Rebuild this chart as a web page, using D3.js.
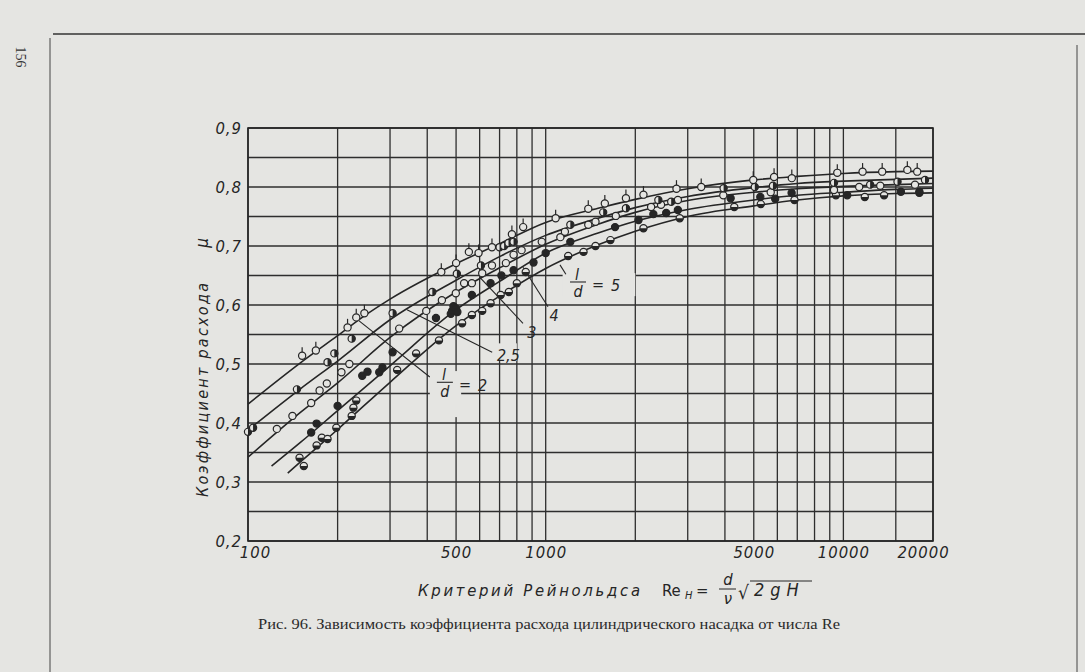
<!DOCTYPE html>
<html><head><meta charset="utf-8">
<script src="https://cdn.jsdelivr.net/npm/d3@7"></script>
<style>
html,body{margin:0;padding:0;background:#e5e5e2}
svg{display:block}
</style>
</head><body>
<svg id="chart" width="1085" height="672"></svg>
<script>
// ---------- data ----------
const xTicks = [100, 500, 1000, 5000, 10000, 20000];
const xTickLabels = ["100", "500", "1000", "5000", "10000", "20000"];
const yTicks = [0.2, 0.3, 0.4, 0.5, 0.6, 0.7, 0.8, 0.9];
const yTickLabels = ["0,2", "0,3", "0,4", "0,5", "0,6", "0,7", "0,8", "0,9"];
const xGrid = [100,200,300,400,500,600,700,800,900,1000,2000,3000,4000,5000,6000,7000,8000,9000,10000,15000,20000];
const yGrid = [0.2,0.25,0.3,0.35,0.4,0.45,0.5,0.55,0.6,0.65,0.7,0.75,0.8,0.85,0.9];

// fitted curves, l/d = 2, 2.5, 3, 4, 5  (Re, mu)
const curveLd2  = [[100,.432],[150,.502],[200,.548],[250,.584],[300,.610],[500,.670],[700,.704],[1000,.740],[1500,.764],[2000,.779],[3000,.797],[5000,.812],[7000,.818],[10000,.823],[15000,.826],[20000,.827]];
const curveLd25 = [[100,.388],[150,.458],[200,.505],[300,.575],[500,.642],[700,.682],[1000,.718],[1500,.747],[2000,.765],[3000,.784],[5000,.799],[7000,.806],[10000,.810],[15000,.813],[20000,.815]];
const curveLd3  = [[100,.342],[150,.418],[200,.468],[300,.545],[500,.622],[700,.663],[1000,.703],[1500,.737],[2000,.757],[3000,.777],[5000,.791],[7000,.797],[10000,.801],[15000,.804],[20000,.806]];
const curveLd4  = [[120,.327],[150,.367],[200,.421],[300,.497],[500,.592],[700,.640],[1000,.688],[1500,.722],[2000,.742],[3000,.762],[5000,.778],[7000,.786],[10000,.791],[15000,.796],[20000,.798]];
const curveLd5  = [[136,.315],[150,.334],[200,.389],[300,.469],[500,.565],[700,.615],[1000,.662],[1500,.702],[2000,.725],[3000,.750],[5000,.768],[7000,.778],[10000,.785],[15000,.789],[20000,.790]];

// measured points
const ptsLd2  = [[152,.514],[169,.523],[216,.562],[231,.579],[246,.586],[446,.656],[500,.671],[552,.690],[595,.688],[660,.698],[770,.720],[840,.732],[1080,.747],[1390,.763],[1580,.772],[1860,.781],[2130,.787],[2750,.797],[3330,.800],[4980,.812],[5850,.817],[6710,.815],[9540,.824],[11600,.826],[13500,.826],[16400,.829],[17700,.826]];
const ptsLd25 = [[100,.385],[104,.392],[146,.457],[185,.503],[195,.518],[223,.543],[306,.586],[416,.622],[503,.653],[606,.667],[700,.698],[725,.700],[750,.705],[780,.707],[1210,.736],[1560,.757],[1860,.764],[2390,.778],[2640,.775],[3960,.798],[5040,.800],[5800,.802],[9300,.807],[12300,.804],[15200,.809],[18800,.812]];
const ptsLd3  = [[125,.390],[141,.412],[163,.434],[174,.455],[184,.467],[206,.486],[219,.500],[322,.560],[397,.590],[448,.608],[499,.620],[532,.637],[565,.637],[612,.654],[660,.667],[735,.671],[780,.685],[830,.693],[970,.707],[1120,.715],[1160,.724],[1390,.736],[1470,.741],[1720,.751],[2260,.766],[2440,.770],[2780,.778],[3950,.786],[5700,.791],[9300,.795],[11300,.800],[13300,.802],[17400,.804]];
const ptsLd4  = [[163,.384],[170,.399],[200,.429],[242,.480],[252,.487],[276,.486],[283,.494],[306,.520],[428,.578],[480,.585],[485,.590],[490,.598],[500,.594],[505,.588],[565,.617],[653,.637],[710,.650],[780,.659],[910,.672],[1000,.688],[1210,.707],[1710,.732],[2050,.744],[2300,.754],[2540,.756],[2780,.761],[4180,.781],[5260,.783],[5900,.780],[6700,.790],[10300,.786],[15600,.792],[18000,.792]];
const ptsLd5  = [[149,.341],[154,.327],[170,.362],[177,.375],[185,.373],[198,.392],[223,.412],[226,.426],[231,.438],[317,.490],[367,.518],[438,.540],[524,.569],[565,.583],[612,.590],[653,.603],[706,.617],[752,.622],[800,.637],[857,.656],[1190,.683],[1340,.690],[1470,.700],[1650,.710],[2130,.730],[2820,.747],[4300,.766],[5280,.771],[6850,.778],[9440,.786],[11800,.783],[13700,.786],[18000,.790]];

// annotation anchors (Re, mu)
const leaders = [[[235,.574],[408,.478]],[[342,.592],[661,.520]],[[601,.647],[839,.569]],[[839,.664],[1018,.597]],[[1117,.668],[1169,.652]]];
const fracLabels = [{at:[431,.469], val:"2"}, {at:[1207,.639], val:"5"}];
const plainLabels = [{at:[686,.515], text:"2,5", anchor:"start"}, {at:[899,.554], text:"3", anchor:"middle"}, {at:[1067,.583], text:"4", anchor:"middle"}];

// ---------- drawing ----------
const ink = "#262626", paper = "#e5e5e2";
const svg = d3.select("#chart");
const x = d3.scaleLog().domain([100, 20000]).range([248, 933]);
const y = d3.scaleLinear().domain([0.2, 0.9]).range([541, 128]);
const italic = "'Liberation Sans Narrow','DejaVu Sans Condensed','DejaVu Sans',sans-serif";

svg.append("rect").attr("width",1085).attr("height",672).attr("fill",paper);

// page frame
svg.append("line").attr("x1",53).attr("x2",1085).attr("y1",34).attr("y2",34).attr("stroke","#333").attr("stroke-width",1.6);
svg.append("line").attr("x1",50).attr("x2",50).attr("y1",38).attr("y2",672).attr("stroke","#444").attr("stroke-width",1);
svg.append("line").attr("x1",1077).attr("x2",1077).attr("y1",45).attr("y2",672).attr("stroke","#444").attr("stroke-width",1);
svg.append("text").attr("transform","translate(16,57) rotate(90)").attr("font-family","'Liberation Serif','DejaVu Serif',serif")
  .attr("font-size",14).attr("fill","#333").attr("text-anchor","middle").text("156");

// grid
const grid = svg.append("g").attr("stroke","#2e2e2e").attr("stroke-width",1.3);
grid.selectAll("line.v").data(xGrid).join("line").attr("x1",d=>x(d)).attr("x2",d=>x(d)).attr("y1",y(0.9)).attr("y2",y(0.2));
grid.selectAll("line.h").data(yGrid).join("line").attr("y1",d=>y(d)).attr("y2",d=>y(d)).attr("x1",x(100)).attr("x2",x(20000));
svg.append("rect").attr("x",x(100)).attr("y",y(0.9)).attr("width",x(20000)-x(100)).attr("height",y(0.2)-y(0.9))
  .attr("fill","none").attr("stroke",ink).attr("stroke-width",1.6);

// paper patches behind labels (gridline gaps)
const patches = [[[408,.488],[520,.41]],[[1140,.654],[2000,.615]],[[680,.535],[800,.505]]];
patches.forEach(p=>{
  svg.append("rect").attr("x",x(p[0][0])).attr("y",y(p[0][1])).attr("width",x(p[1][0])-x(p[0][0])).attr("height",y(p[1][1])-y(p[0][1])).attr("fill",paper);
});

// axes
const xAxis = d3.axisBottom(x).tickValues(xTicks).tickSize(0).tickPadding(5).tickFormat((d,i)=>xTickLabels[i]);
const gx = svg.append("g").attr("transform",`translate(0,${y(0.2)})`).call(xAxis);
const yAxis = d3.axisLeft(y).tickValues(yTicks).tickSize(0).tickPadding(6).tickFormat((d,i)=>yTickLabels[i]);
const gy = svg.append("g").attr("transform",`translate(${x(100)},0)`).call(yAxis);
[gx,gy].forEach(g=>{
  g.select(".domain").remove();
  g.selectAll("text").attr("font-family",italic).attr("font-style","italic").attr("font-size",16.5).attr("fill",ink).attr("letter-spacing",1);
});
gx.selectAll("text").filter((d)=>d===20000).attr("dx",-10);
gx.selectAll("text").filter((d)=>d===100).attr("dx",7);

// curves
const line = d3.line().x(d=>x(d[0])).y(d=>y(d[1])).curve(d3.curveMonotoneX);
[curveLd2,curveLd25,curveLd3,curveLd4,curveLd5].forEach(c=>{
  svg.append("path").datum(c).attr("d",line).attr("fill","none").attr("stroke",ink).attr("stroke-width",1.6);
});

// leader lines
svg.append("g").selectAll("line").data(leaders).join("line")
  .attr("x1",d=>x(d[0][0])).attr("y1",d=>y(d[0][1])).attr("x2",d=>x(d[1][0])).attr("y2",d=>y(d[1][1]))
  .attr("stroke",ink).attr("stroke-width",1.1);

// markers
const r = 3.6;
function drawPts(data, kind){
  const g = svg.append("g").selectAll("g").data(data).join("g").attr("transform",d=>`translate(${x(d[0])},${y(d[1])})`);
  if(kind==="flag") g.append("line").attr("y1",-r).attr("y2",-r-5).attr("stroke",ink).attr("stroke-width",1.2);
  g.append("circle").attr("r",r).attr("fill",kind==="filled"?ink:paper).attr("stroke",ink).attr("stroke-width",1.2);
  if(kind==="half") g.append("path").attr("d",`M0,${-r}A${r},${r} 0 0 1 0,${r}Z`).attr("fill",ink);
  if(kind==="bottom") g.append("path").attr("d",`M${-r},0A${r},${r} 0 0 0 ${r},0Z`).attr("fill",ink);
}
drawPts(ptsLd5,"bottom");
drawPts(ptsLd4,"filled");
drawPts(ptsLd3,"open");
drawPts(ptsLd25,"half");
drawPts(ptsLd2,"flag");

// fraction labels l/d = n
fracLabels.forEach(f=>{
  const g = svg.append("g").attr("transform",`translate(${x(f.at[0])},${y(f.at[1])})`)
    .attr("font-family",italic).attr("font-style","italic").attr("font-size",16).attr("fill",ink);
  g.append("text").attr("x",7).attr("y",-2).attr("text-anchor","middle").text("l");
  g.append("line").attr("x1",0).attr("x2",16).attr("y1",0).attr("y2",0).attr("stroke",ink).attr("stroke-width",1.1);
  g.append("text").attr("x",8).attr("y",15).attr("text-anchor","middle").text("d");
  g.append("text").attr("x",22).attr("y",8).text("=");
  g.append("text").attr("x",41).attr("y",9).text(f.val);
});
plainLabels.forEach(p=>{
  svg.append("text").attr("x",x(p.at[0])).attr("y",y(p.at[1])).attr("dy","0.35em").attr("text-anchor",p.anchor)
    .attr("font-family",italic).attr("font-style","italic").attr("font-size",16).attr("fill",ink).text(p.text);
});

// y axis title
svg.append("text").attr("transform","translate(208,390) rotate(-90)").attr("text-anchor","middle")
  .attr("font-family",italic).attr("font-style","italic").attr("font-size",16).attr("fill",ink)
  .attr("textLength",214).attr("lengthAdjust","spacing").text("Коэффициент расхода");
svg.append("text").attr("transform","translate(208,243) rotate(-90)").attr("text-anchor","middle")
  .attr("font-family",italic).attr("font-style","italic").attr("font-size",17).attr("fill",ink).text("μ");

// x axis title
const xt = svg.append("g").attr("font-family",italic).attr("font-style","italic").attr("font-size",16.5).attr("fill",ink);
xt.append("text").attr("x",418).attr("y",596).attr("textLength",222).attr("lengthAdjust","spacing").text("Критерий Рейнольдса");
xt.append("text").attr("x",662).attr("y",596).attr("font-style","normal").text("Re");
xt.append("text").attr("x",685).attr("y",599).attr("font-size",11).text("H");
xt.append("text").attr("x",696).attr("y",596).text("=");
xt.append("text").attr("x",728).attr("y",585).attr("text-anchor","middle").text("d");
xt.append("line").attr("x1",719).attr("x2",736).attr("y1",589).attr("y2",589).attr("stroke",ink).attr("stroke-width",1);
xt.append("text").attr("x",728).attr("y",604).attr("text-anchor","middle").text("ν");
xt.append("text").attr("x",738).attr("y",599).attr("font-style","normal").attr("font-size",19).text("√");
xt.append("line").attr("x1",750).attr("x2",812).attr("y1",581).attr("y2",581).attr("stroke",ink).attr("stroke-width",1);
xt.append("text").attr("x",754).attr("y",596).attr("font-size",18).attr("letter-spacing",6).text("2gH");

// caption
svg.append("text").attr("x",258).attr("y",629).attr("font-family","'Liberation Serif','DejaVu Serif',serif")
  .attr("font-size",15.5).attr("fill","#2a2a2a").attr("textLength",582).attr("lengthAdjust","spacingAndGlyphs")
  .text("Рис. 96. Зависимость коэффициента расхода цилиндрического насадка от числа Re");
</script>
</body></html>
